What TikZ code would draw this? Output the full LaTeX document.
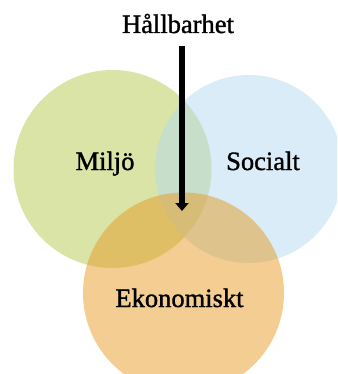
\documentclass[tikz,border=0pt]{standalone}
\usepackage{fontspec}
\setmainfont{Liberation Serif}
\newfontfamily\lblfont{Liberation Serif}[FakeBold=1.2]
\usetikzlibrary{arrows.meta}
\definecolor{cgreen}{RGB}{179,201,77}
\definecolor{cblue}{RGB}{179,217,239}
\definecolor{corange}{RGB}{231,155,37}
\tikzset{
  venn/.style={fill opacity=0.5, draw=none},
  lbl/.style={font=\lblfont\fontsize{26.5}{30}\selectfont, anchor=base, inner sep=0pt, text=black}
}
\begin{document}
\begin{tikzpicture}[x=1pt,y=-1pt]
\useasboundingbox (0,0) rectangle (337,374);
\clip (0,0) rectangle (337,374);
\fill[venn, fill=cgreen] (112.5,169) circle (99);
\fill[venn, fill=cblue] (249,169) circle (94);
\fill[venn, fill=corange] (183.5,293) circle (100.5);
\node[lbl] (hall) at (178,33) {Hållbarhet};
\node[lbl] (miljo) at (105,170) {Miljö};
\node[lbl] (soc) at (263,170) {Socialt};
\node[lbl] (eko) at (179.5,307) {Ekonomiskt};
\coordinate (a0) at (182,46);
\coordinate (a1) at (182,211);
\draw[line width=6pt, -{Triangle[width=13pt,length=8pt]}, black] (a0) -- (a1);
\end{tikzpicture}
\end{document}
